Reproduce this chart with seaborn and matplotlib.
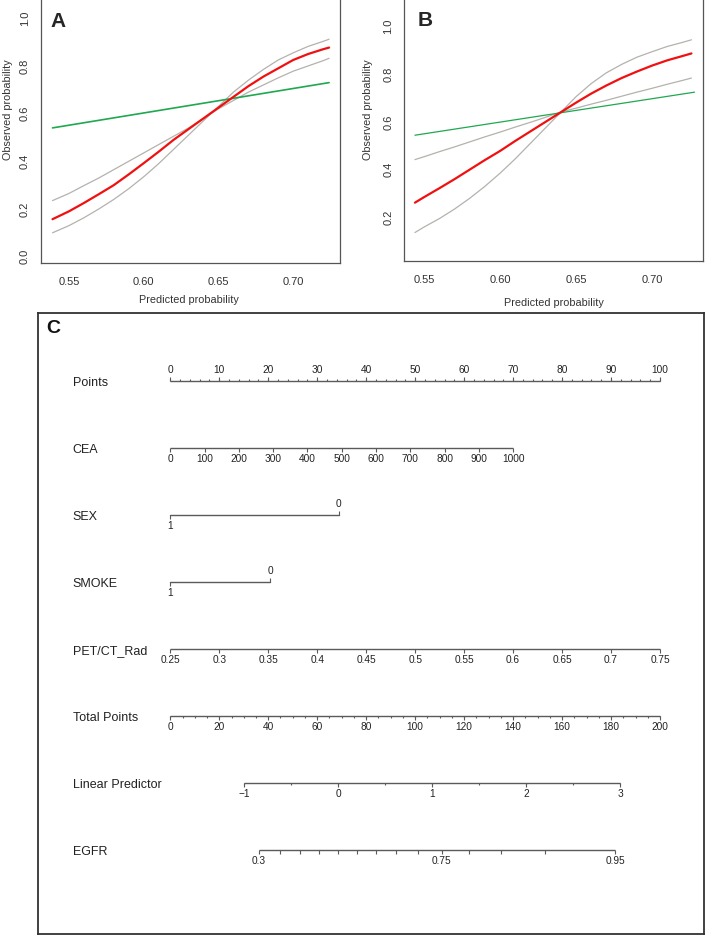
import numpy as np
import pandas as pd
import matplotlib
matplotlib.use("Agg")
import matplotlib.pyplot as plt
import seaborn as sns

# ---- panel A: calibration curves ----
a_x = [0.539, 0.55, 0.56, 0.57, 0.58, 0.59, 0.60, 0.61, 0.62, 0.63,
       0.64, 0.65, 0.66, 0.67, 0.68, 0.69, 0.70, 0.71, 0.72, 0.724]
a_red = [0.157, 0.19, 0.225, 0.262, 0.30, 0.345, 0.392, 0.44, 0.49, 0.535,
         0.58, 0.625, 0.67, 0.715, 0.755, 0.79, 0.825, 0.85, 0.87, 0.877]
a_gray_steep = [0.10, 0.13, 0.163, 0.20, 0.24, 0.285, 0.335, 0.39, 0.45, 0.51,
                0.57, 0.63, 0.69, 0.74, 0.785, 0.825, 0.855, 0.882, 0.903, 0.912]
a_gray_flat = [0.235, 0.265, 0.298, 0.33, 0.365, 0.40, 0.435, 0.47, 0.505, 0.54,
               0.58, 0.62, 0.655, 0.69, 0.72, 0.75, 0.778, 0.80, 0.822, 0.832]
a_green_x = [0.539, 0.724]
a_green = [0.54, 0.73]

# ---- panel B: calibration curves ----
b_x = [0.544, 0.55, 0.56, 0.57, 0.58, 0.59, 0.60, 0.61, 0.62, 0.63,
       0.64, 0.65, 0.66, 0.67, 0.68, 0.69, 0.70, 0.71, 0.72, 0.726]
b_red = [0.262, 0.285, 0.322, 0.36, 0.40, 0.44, 0.478, 0.52, 0.56, 0.60,
         0.64, 0.68, 0.718, 0.752, 0.783, 0.81, 0.835, 0.857, 0.875, 0.886]
b_gray_steep = [0.137, 0.16, 0.195, 0.235, 0.28, 0.33, 0.385, 0.445, 0.51, 0.575,
                0.64, 0.705, 0.76, 0.805, 0.84, 0.87, 0.893, 0.915, 0.932, 0.943]
b_gray_flat = [0.442, 0.454, 0.475, 0.495, 0.516, 0.537, 0.557, 0.578, 0.598, 0.619,
               0.641, 0.657, 0.674, 0.69, 0.707, 0.724, 0.74, 0.757, 0.773, 0.783]
b_green_x = [0.544, 0.728]
b_green = [0.544, 0.724]

# ---- panel C: nomogram ----
row_labels = ["Points", "CEA", "SEX", "SMOKE", "PET/CT_Rad",
              "Total Points", "Linear Predictor", "EGFR"]
points_ticks = list(range(0, 101, 10))
points_minor = list(range(0, 101, 2))
cea_ticks = list(range(0, 1001, 100))
cea_max_points = 70.0
sex_levels = ["1", "0"]
sex_points = [0.0, 34.4]
smoke_levels = ["1", "0"]
smoke_points = [0.0, 20.4]
pet_ticks = [0.25, 0.3, 0.35, 0.4, 0.45, 0.5, 0.55, 0.6, 0.65, 0.7, 0.75]
pet_labels = ["0.25", "0.3", "0.35", "0.4", "0.45", "0.5", "0.55", "0.6", "0.65", "0.7", "0.75"]
total_ticks = list(range(0, 201, 20))
total_minor = list(range(0, 201, 5))
lp_ticks = [-1, 0, 1, 2, 3]
lp_minor = [-1, -0.5, 0, 0.5, 1, 1.5, 2, 2.5, 3]
lp_total_at_zero = 68.6
lp_points_per_unit = 38.4
egfr_ticks = [0.3, 0.35, 0.4, 0.45, 0.5, 0.55, 0.6, 0.65, 0.7, 0.75, 0.8, 0.85, 0.9, 0.95]
egfr_labelled = [0.3, 0.75, 0.95]

sns.set_style("white")
plt.rcParams["font.family"] = ["Liberation Sans", "DejaVu Sans"]

W, H = 708, 936
fig = plt.figure(figsize=(W / 100, H / 100), dpi=100)


def px_axes(left, top, right, bottom):
    return fig.add_axes([left / W, 1 - bottom / H, (right - left) / W, (bottom - top) / H])


def calib_panel(ax, x, red, g_steep, g_flat, gx, green, green_lw):
    sns.lineplot(x=x, y=g_steep, ax=ax, color="#b5b2ad", lw=0.9)
    sns.lineplot(x=x, y=g_flat, ax=ax, color="#b5b2ad", lw=0.9)
    sns.lineplot(x=gx, y=green, ax=ax, color="#1fa850", lw=green_lw)
    sns.lineplot(x=x, y=red, ax=ax, color="#f01010", lw=1.6)
    ax.set_xticks([0.55, 0.60, 0.65, 0.70])
    ax.set_xticklabels(["0.55", "0.60", "0.65", "0.70"])
    ax.tick_params(axis="both", length=4, width=0.8, color="#555555",
                   labelcolor="#333333", labelsize=8)
    ax.tick_params(axis="x", pad=6)
    ax.tick_params(axis="y", pad=4)
    for lab in ax.get_yticklabels():
        lab.set_rotation(90)
        lab.set_va("center")
    for sp in ax.spines.values():
        sp.set_color("#555555")
        sp.set_linewidth(0.9)
    ax.set_xlabel("Predicted probability", fontsize=7.8, color="#333333")
    ax.set_ylabel("Observed probability", fontsize=7.8, color="#333333")
    ax.xaxis.label.set_va("center")
    ax.yaxis.label.set_va("center")


# panel A
axA = px_axes(41, -3.2, 340, 263.3)
calib_panel(axA, a_x, a_red, a_gray_steep, a_gray_flat, a_green_x, a_green, 1.2)
axA.set_xlim(0.5313, 0.7313)
axA.set_ylim(-0.028, 1.09)
axA.set_yticks([0.0, 0.2, 0.4, 0.6, 0.8, 1.0])
axA.set_yticklabels(["0.0", "0.2", "0.4", "0.6", "0.8", "1.0"])
axA.xaxis.set_label_coords(0.495, -0.138)
axA.yaxis.set_label_coords(-0.11, 0.575)
axA.text(0.058, 0.908, "A", transform=axA.transAxes, fontsize=15, fontweight="bold",
         family=["Liberation Sans Narrow", "Liberation Sans"], ha="center", va="center")

# panel B
axB = px_axes(404.3, -3.0, 703.3, 261)
calib_panel(axB, b_x, b_red, b_gray_steep, b_gray_flat, b_green_x, b_green, 0.9)
axB.set_xlim(0.537, 0.7338)
axB.set_ylim(0.018, 1.122)
axB.set_yticks([0.2, 0.4, 0.6, 0.8, 1.0])
axB.set_yticklabels(["0.2", "0.4", "0.6", "0.8", "1.0"])
axB.xaxis.set_label_coords(0.5, -0.159)
axB.yaxis.set_label_coords(-0.12, 0.572)
axB.text(0.069, 0.912, "B", transform=axB.transAxes, fontsize=15, fontweight="bold",
         family=["Liberation Sans Narrow", "Liberation Sans"], ha="center", va="center")

# panel C
axC = px_axes(37.7, 312.7, 704, 934.3)
axC.set_xlim(-27.08, 108.98)
axC.set_ylim(8.258, -1.019)
axC.set_xticks([])
axC.set_yticks([])
for sp in axC.spines.values():
    sp.set_color("#333333")
    sp.set_linewidth(1.3)

line_c = "#5a5a5a"
text_c = "#222222"
tick_len = 0.055
minor_len = 0.03
lab_off = 0.17


def scale_row(row, xs, labels, side="below", minor=None):
    d = -1 if side == "above" else 1
    axC.plot([min(xs), max(xs)], [row, row], color=line_c, lw=1.0, solid_capstyle="butt")
    if minor is not None:
        axC.vlines(minor, row, row + d * minor_len, color=line_c, lw=0.8)
    axC.vlines(xs, row, row + d * tick_len, color=line_c, lw=0.8)
    for x, lab in zip(xs, labels):
        if lab is None:
            continue
        axC.text(x, row + d * lab_off, lab, ha="center", va="center",
                 fontsize=7.3, color=text_c)


def two_level_row(row, pts, levels):
    axC.plot([pts[0], pts[1]], [row, row], color=line_c, lw=1.0)
    axC.vlines([pts[0]], row, row + tick_len, color=line_c, lw=0.8)
    axC.vlines([pts[1]], row, row - tick_len, color=line_c, lw=0.8)
    axC.text(pts[0], row + lab_off, levels[0], ha="center", va="center", fontsize=7.3, color=text_c)
    axC.text(pts[1], row - lab_off, levels[1], ha="center", va="center", fontsize=7.3, color=text_c)


def total_to_x(t):
    return np.asarray(t, dtype=float) / 2.0


def lp_to_x(lp):
    return total_to_x(lp_total_at_zero + np.asarray(lp, dtype=float) * lp_points_per_unit)


# Points
scale_row(0, points_ticks, [str(v) for v in points_ticks], side="above", minor=points_minor)
# CEA
cea_x = np.asarray(cea_ticks, dtype=float) / max(cea_ticks) * cea_max_points
scale_row(1, cea_x, [str(v) for v in cea_ticks])
# SEX, SMOKE
two_level_row(2, sex_points, sex_levels)
two_level_row(3, smoke_points, smoke_levels)
# PET/CT_Rad
pet_x = (np.asarray(pet_ticks) - pet_ticks[0]) / (pet_ticks[-1] - pet_ticks[0]) * 100
scale_row(4, pet_x, pet_labels)
# Total Points
scale_row(5, total_to_x(total_ticks), [str(v) for v in total_ticks], minor=total_to_x(total_minor))
# Linear Predictor
lp_labels = ["\u22121" if v < 0 else str(v) for v in lp_ticks]
scale_row(6, lp_to_x(lp_ticks), lp_labels, minor=lp_to_x(lp_minor))
# EGFR
egfr = np.asarray(egfr_ticks)
egfr_x = lp_to_x(np.log(egfr / (1 - egfr)))
egfr_labels = [("%g" % v) if any(abs(v - e) < 1e-9 for e in egfr_labelled) else None for v in egfr_ticks]
scale_row(7, egfr_x, egfr_labels)

for i, name in enumerate(row_labels):
    axC.text(-19.93, i + 0.03, name, ha="left", va="center", fontsize=9, color=text_c)

axC.text(-25.3, -0.79, "C", ha="left", va="center", fontsize=14, fontweight="bold",
         family=["Liberation Sans Narrow", "Liberation Sans"], color="#111111")

fig.savefig("out.png", dpi=100)
